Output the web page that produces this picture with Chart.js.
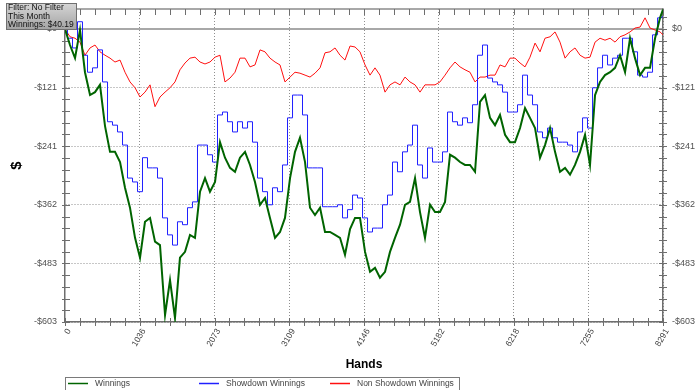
<!DOCTYPE html>
<html>
<head>
<meta charset="utf-8">
<script src="https://cdn.jsdelivr.net/npm/chart.js@4/dist/chart.umd.min.js"></script>
<style>
  html, body { margin: 0; padding: 0; background: #fff; }
  canvas { display: block; }
</style>
</head>
<body>
<canvas id="chartWinnings" width="700" height="390"></canvas>
<script>
// hands played (x) and cumulative $ for each line
const hands = [0, 69, 139, 208, 277, 347, 416, 485, 555, 624,
  693, 763, 832, 901, 971, 1040, 1109, 1179, 1248, 1317,
  1387, 1456, 1525, 1594, 1664, 1733, 1802, 1872, 1941, 2010,
  2080, 2149, 2218, 2288, 2357, 2426, 2496, 2565, 2634, 2704,
  2773, 2842, 2912, 2981, 3050, 3120, 3189, 3258, 3328, 3397,
  3466, 3536, 3605, 3674, 3744, 3813, 3882, 3952, 4021, 4090,
  4160, 4229, 4298, 4367, 4437, 4506, 4575, 4645, 4714, 4783,
  4853, 4922, 4991, 5061, 5130, 5199, 5269, 5338, 5407, 5477,
  5546, 5615, 5685, 5754, 5823, 5893, 5962, 6031, 6101, 6170,
  6239, 6309, 6378, 6447, 6517, 6586, 6655, 6725, 6794, 6863,
  6933, 7002, 7071, 7141, 7210, 7279, 7349, 7418, 7487, 7557,
  7626, 7695, 7765, 7834, 7903, 7973, 8042, 8111, 8181, 8250,
  8291];

const winnings = [0, -33, -60, -2, -89, -136, -130, -115, -200, -253,
  -253, -274, -327, -368, -430, -471, -397, -389, -438, -445,
  -589, -517, -595, -471, -459, -424, -430, -335, -307, -335,
  -315, -233, -265, -286, -294, -265, -253, -280, -315, -362,
  -348, -389, -430, -418, -389, -307, -253, -224, -274, -368,
  -383, -368, -418, -418, -424, -430, -465, -412, -389, -389,
  -459, -500, -492, -512, -500, -459, -430, -403, -362, -356,
  -307, -377, -430, -362, -377, -377, -356, -259, -265, -274,
  -280, -280, -294, -150, -136, -183, -198, -177, -218, -233,
  -233, -204, -163, -183, -204, -265, -239, -204, -253, -294,
  -286, -300, -280, -253, -218, -280, -136, -109, -95, -89,
  -80, -54, -89, -19, -60, -95, -80, -80, -19, 23,
  40.19];

const showdown = [0, -19, -39, 15, -54, -89, -80, -43, -109, -191,
  -198, -212, -239, -307, -315, -335, -265, -286, -286, -307,
  -389, -424, -445, -397, -403, -368, -356, -239, -239, -259,
  -274, -177, -171, -191, -212, -191, -204, -191, -233, -307,
  -335, -362, -327, -335, -280, -183, -136, -136, -177, -286,
  -286, -286, -366, -366, -366, -362, -389, -372, -342, -348,
  -389, -418, -410, -410, -362, -342, -274, -294, -253, -239,
  -198, -280, -307, -245, -274, -274, -253, -171, -191, -198,
  -183, -193, -156, -54, -33, -101, -109, -115, -130, -171,
  -171, -156, -95, -136, -156, -212, -224, -204, -224, -233,
  -233, -239, -253, -212, -183, -204, -121, -80, -54, -74,
  -60, -54, -19, -19, -47, -95, -99, -89, -12, 23,
  25];

const nonShowdown = [0, -16, -19, -27, -54, -39, -33, -47, -54, -60,
  -68, -64, -89, -109, -121, -140, -130, -115, -160, -140,
  -130, -121, -109, -84, -70, -60, -58, -68, -72, -68,
  -58, -54, -109, -101, -89, -60, -60, -78, -74, -43,
  -47, -60, -68, -74, -109, -99, -89, -91, -95, -99,
  -91, -80, -49, -47, -39, -54, -64, -35, -37, -47,
  -74, -95, -80, -95, -130, -115, -109, -115, -99, -109,
  -115, -130, -115, -115, -115, -109, -95, -80, -68, -78,
  -84, -89, -109, -99, -99, -95, -95, -74, -78, -60,
  -60, -70, -78, -58, -29, -47, -19, -16, -6, -27,
  -60, -47, -39, -54, -60, -58, -27, -19, -23, -19,
  -27, -16, -12, -6, 2, 4, 23, 2, -2, -6,
  -12];

const xTickValues = [0, 1036.375, 2072.75, 3109.125, 4145.5, 5181.875, 6218.25, 7254.625, 8291];
const xTickLabels = ['0', '1036', '2073', '3109', '4146', '5182', '6218', '7255', '8291'];
const yTickValues = [-603.4, -482.72, -362.04, -241.36, -120.68, 0];
const yTickLabels = ['-$603', '-$483', '-$362', '-$241', '-$121', '$0'];

const seriesNames = ['Winnings', 'Showdown Winnings', 'Non Showdown Winnings'];
const filterLines = ['Filter: No Filter', 'This Month', 'Winnings: $40.19'];

const FONT = "'Liberation Sans', Arial, sans-serif";
const AXIS = '#6e6e6e';

// majors plus 4 minor ticks in between
function withMinor(majors, max) {
    const step = (majors[1] - majors[0]) / 5;
    const out = [];
    majors.forEach((m, i) => {
        out.push({ value: m, major: true });
        const next = i < majors.length - 1 ? majors[i + 1] : null;
        for (let k = 1; k < 5; k++) {
            const v = m + step * k;
            if (next !== null ? v < next - 1e-6 : v <= max) out.push({ value: v, major: false });
        }
    });
    return out;
}

function pts(ys) {
    return hands.map((h, i) => ({ x: h, y: ys[i] }));
}

function tickLabel(values, labels) {
    return function (value, index, ticks) {
        if (!ticks[index].major) return '';
        const j = values.findIndex(v => Math.abs(v - value) < 1e-6);
        return j >= 0 ? labels[j] : '';
    };
}

const gridColor = ctx => (ctx.tick && ctx.tick.major && ctx.tick.value !== 0) ? '#8f8f8f' : 'rgba(0,0,0,0)';

const yAxis = (side, width) => ({
    type: 'linear',
    position: side,
    min: -603.4,
    max: 41.2,
    afterBuildTicks: s => { s.ticks = withMinor(yTickValues, 41.2); },
    afterFit: s => { s.width = width; s.paddingTop = 0; s.paddingBottom = 0; },
    ticks: {
        autoSkip: false,
        padding: side === 'left' ? 8 : 9,
        color: '#505050',
        font: { family: FONT, size: 9 },
        callback: tickLabel(yTickValues, yTickLabels)
    },
    grid: {
        drawTicks: false,
        drawOnChartArea: side === 'left',
        color: gridColor,
        lineWidth: 1,
        borderDash: [1, 2]
    },
    border: { display: true, color: AXIS, width: 1.5, dash: [1, 2] },
    title: side === 'left'
        ? { display: true, text: '$', color: '#000', font: { family: FONT, size: 15, weight: 'bold' }, padding: { top: 8, bottom: 0 } }
        : { display: false }
});

// ticks that cross the axes + top border + zero line
const frame = {
    id: 'frame',
    beforeDatasetsDraw(chart) {
        const { ctx, chartArea: a, scales } = chart;
        ctx.save();
        ctx.strokeStyle = '#8c8c8c';
        ctx.lineWidth = 1.5;
        const z = scales.y.getPixelForValue(0);
        ctx.beginPath();
        ctx.moveTo(a.left, z); ctx.lineTo(a.right, z);
        ctx.moveTo(a.left, a.top); ctx.lineTo(a.right, a.top);
        ctx.stroke();

        ctx.strokeStyle = AXIS;
        ctx.lineWidth = 1;
        ctx.beginPath();
        scales.x.ticks.forEach(t => {
            const px = Math.round(scales.x.getPixelForValue(t.value)) + 0.5;
            ctx.moveTo(px, a.bottom - 4); ctx.lineTo(px, a.bottom + 4);
            ctx.moveTo(px, a.top); ctx.lineTo(px, a.top + 6);
        });
        scales.y.ticks.forEach(t => {
            const py = Math.round(scales.y.getPixelForValue(t.value)) + 0.5;
            ctx.moveTo(a.left - 3, py); ctx.lineTo(a.left + 5, py);
            ctx.moveTo(a.right - 4, py); ctx.lineTo(a.right + 4, py);
        });
        ctx.stroke();
        ctx.restore();
    },
    afterDraw(chart) {
        const { ctx } = chart;
        ctx.save();
        // filter box
        const g = ctx.createLinearGradient(0, 3, 0, 29);
        g.addColorStop(0, '#d6d6d6');
        g.addColorStop(1, '#a4a4a4');
        ctx.fillStyle = g;
        ctx.fillRect(6, 3, 70, 26);
        ctx.strokeStyle = '#707070';
        ctx.lineWidth = 1;
        ctx.strokeRect(6.5, 3.5, 70, 26);
        ctx.fillStyle = '#111';
        ctx.font = '8.5px ' + FONT;
        ctx.textBaseline = 'middle';
        filterLines.forEach((t, i) => ctx.fillText(t, 8, 8 + i * 8.5));

        // legend box
        ctx.strokeStyle = '#7a7a7a';
        ctx.strokeRect(65.5, 377.5, 394, 20);
        chart.data.datasets.forEach((ds, i) => {
            const x0 = 68 + i * 131;
            ctx.strokeStyle = ds.borderColor;
            ctx.lineWidth = 1.5;
            ctx.beginPath();
            ctx.moveTo(x0, 383.5); ctx.lineTo(x0 + 20, 383.5);
            ctx.stroke();
            ctx.fillStyle = '#444';
            ctx.fillText(ds.label, x0 + 27, 383.5);
        });
        ctx.restore();
    }
};

new Chart(document.getElementById('chartWinnings'), {
    type: 'line',
    data: {
        datasets: [{
            label: seriesNames[0],
            data: pts(winnings),
            borderColor: '#006400',
            borderWidth: 2
        }, {
            label: seriesNames[1],
            data: pts(showdown),
            borderColor: '#2020ff',
            borderWidth: 1,
            stepped: 'middle'
        }, {
            label: seriesNames[2],
            data: pts(nonShowdown),
            borderColor: '#ff1010',
            borderWidth: 1
        }]
    },
    options: {
        responsive: false,
        animation: false,
        devicePixelRatio: 1,
        layout: { padding: { top: 9, bottom: 18, left: 0, right: 0 } },
        elements: { point: { radius: 0 }, line: { tension: 0 } },
        plugins: { legend: { display: false }, tooltip: { enabled: false } },
        scales: {
            x: {
                type: 'linear',
                position: 'bottom',
                min: 0,
                max: 8291,
                afterBuildTicks: s => { s.ticks = withMinor(xTickValues, 8291); },
                afterFit: s => { s.height = 50; s.paddingLeft = 0; s.paddingRight = 0; },
                ticks: {
                    autoSkip: false,
                    minRotation: 60,
                    maxRotation: 60,
                    padding: 5,
                    labelOffset: 4,
                    color: '#404040',
                    font: { family: FONT, size: 8.5 },
                    callback: tickLabel(xTickValues, xTickLabels)
                },
                grid: {
                    drawTicks: false,
                    color: gridColor,
                    lineWidth: 1,
                    borderDash: [1, 2]
                },
                border: { display: true, color: AXIS, width: 1.5, dash: [1, 2] },
                title: {
                    display: true,
                    text: 'Hands',
                    color: '#000',
                    font: { family: FONT, size: 12, weight: 'bold' },
                    padding: { top: 0, bottom: 0 }
                }
            },
            y: yAxis('left', 65),
            y2: yAxis('right', 37)
        }
    },
    plugins: [frame]
});
</script>
</body>
</html>
